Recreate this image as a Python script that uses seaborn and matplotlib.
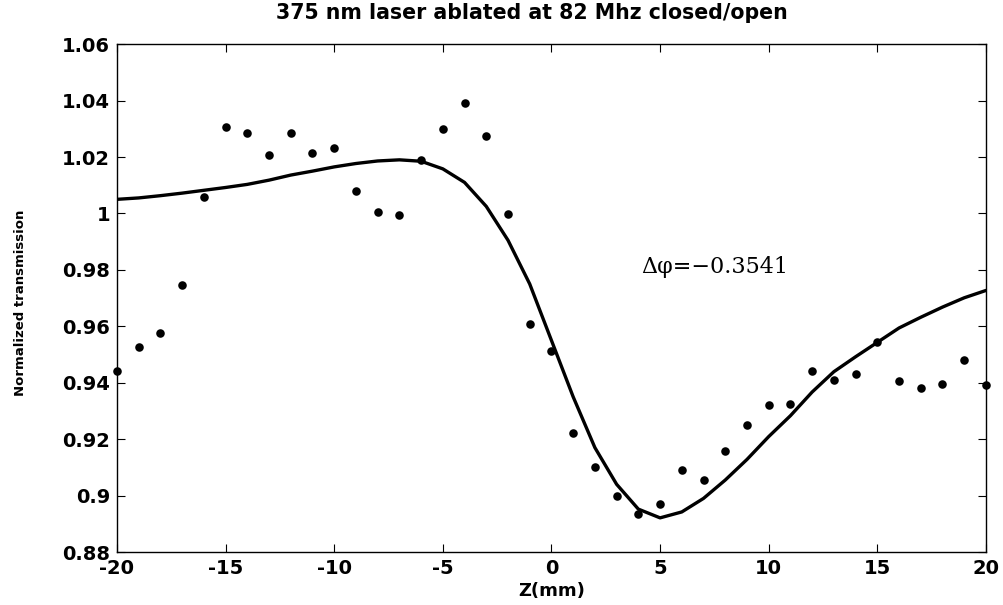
import numpy as np
import pandas as pd
import matplotlib
matplotlib.use("Agg")
import matplotlib.pyplot as plt
import seaborn as sns

# Measured points (closed/open normalized transmission)
z_meas = list(range(-20, 21))
t_meas = [0.944, 0.9525, 0.9578, 0.9748, 1.0057, 1.0306, 1.0284, 1.0207, 1.0284, 1.0216,
          1.0233, 1.0079, 1.0006, 0.9996, 1.0188, 1.0301, 1.039, 1.0275, 0.9997, 0.9607,
          0.9511, 0.9221, 0.9102, 0.8997, 0.8935, 0.897, 0.9092, 0.9055, 0.9157, 0.925,
          0.932, 0.9325, 0.9442, 0.9411, 0.9432, 0.9546, 0.9407, 0.9381, 0.9397, 0.948, 0.9391]

# Fitted curve
z_fit = list(range(-20, 21))
t_fit = [1.005, 1.0055, 1.0063, 1.0072, 1.0082, 1.0092, 1.0103, 1.0118, 1.0136, 1.015,
         1.0165, 1.0177, 1.0186, 1.019, 1.0185, 1.0158, 1.011, 1.0025, 0.9905, 0.975,
         0.955, 0.935, 0.917, 0.904, 0.8952, 0.8921, 0.8942, 0.899, 0.9055, 0.9128,
         0.9209, 0.9283, 0.9367, 0.9439, 0.9492, 0.9543, 0.9594, 0.9632, 0.9668, 0.9701, 0.9727]

x_ticks = [-20, -15, -10, -5, 0, 5, 10, 15, 20]
y_ticks = [0.88, 0.9, 0.92, 0.94, 0.96, 0.98, 1.0, 1.02, 1.04, 1.06]
y_tick_labels = ["0.88", "0.9", "0.92", "0.94", "0.96", "0.98", "1", "1.02", "1.04", "1.06"]

title = "375 nm laser ablated at 82 Mhz closed/open"
xlabel = "Z(mm)"
ylabel = "Normalized transmission"
annotation = "Δφ=−0.3541"

sns.set_style("ticks")
plt.rcParams["font.family"] = ["DejaVu Sans"]
plt.rcParams["text.color"] = "black"
plt.rcParams["axes.labelcolor"] = "black"

fig = plt.figure(figsize=(10.04, 6.05), dpi=100)
ax = fig.add_axes([0.1165, 0.0876, 0.8655, 0.8394])

df_meas = pd.DataFrame({"z": z_meas, "t": t_meas})
df_fit = pd.DataFrame({"z": z_fit, "t": t_fit})

sns.lineplot(data=df_fit, x="z", y="t", color="black", linewidth=2.4, ax=ax, zorder=2)
sns.scatterplot(data=df_meas, x="z", y="t", color="black", s=38, marker="o",
                edgecolor="black", linewidth=0, ax=ax, zorder=3, clip_on=False)

ax.set_xlim(-20, 20)
ax.set_ylim(0.88, 1.06)
ax.set_xticks(x_ticks)
ax.set_xticklabels([str(v) for v in x_ticks])
ax.set_yticks(y_ticks)
ax.set_yticklabels(y_tick_labels)

for s in ax.spines.values():
    s.set_visible(True)
    s.set_linewidth(1.0)
    s.set_color("black")

ax.tick_params(axis="both", which="both", direction="in", length=6, width=0.8,
               top=True, right=True, labelsize=14, pad=5, colors="black",
               labelcolor="black")
for lab in ax.get_xticklabels() + ax.get_yticklabels():
    lab.set_fontweight("bold")

ax.set_title(title, fontsize=14.8, fontweight="bold", pad=18, color="black", x=0.478)
ax.set_xlabel(xlabel, fontsize=13, fontweight="bold", labelpad=3, color="black")
ax.set_ylabel(ylabel, fontsize=9.5, fontweight="bold", color="black")
ax.yaxis.set_label_coords(-0.104, 0.49)

ax.text(4.15, 0.981, annotation, fontsize=16, family=["DejaVu Serif"],
        va="center", ha="left", color="black")

fig.savefig("out.png", dpi=100, facecolor="white")
